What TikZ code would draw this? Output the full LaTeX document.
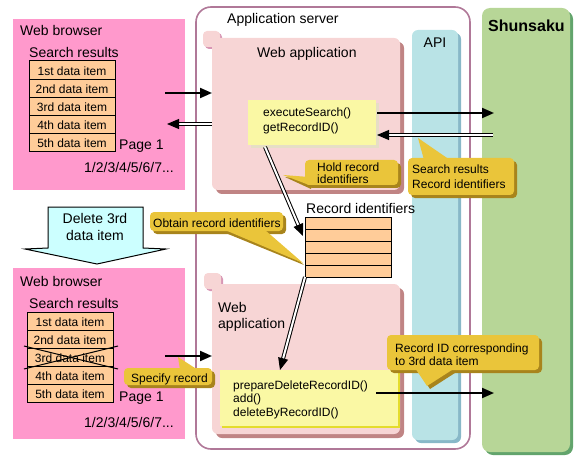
\documentclass[tikz,border=0pt]{standalone}
\usepackage{fontspec}
\setmainfont{Liberation Sans}
\usetikzlibrary{arrows.meta,shadows}
\definecolor{browserc}{HTML}{FF99CC}
\definecolor{cellc}{HTML}{FFCC99}
\definecolor{appc}{HTML}{B07898}
\definecolor{webc}{HTML}{F7D5D5}
\definecolor{websh}{HTML}{C08484}
\definecolor{tabsh}{HTML}{D896B4}
\definecolor{yelc}{HTML}{FAF8A4}
\definecolor{yelsh}{HTML}{E6DEC6}
\definecolor{yelsht}{HTML}{E4DC2C}
\definecolor{apic}{HTML}{B9E3E6}
\definecolor{apish}{HTML}{88B8C8}
\definecolor{shuc}{HTML}{B7D697}
\definecolor{shush}{HTML}{62A46C}
\definecolor{callc}{HTML}{EAC53A}
\definecolor{callsh}{HTML}{A8841C}
\definecolor{delc}{HTML}{CCFFFF}
\begin{document}
\begin{tikzpicture}[x=1pt,y=-1pt,
  lbl/.style={anchor=base west, inner sep=0pt, font=\fontsize{12}{14}\selectfont},
  big/.style={anchor=base west, inner sep=0pt, font=\fontsize{14}{16}\selectfont},
  panel/.style={anchor=north west, inner sep=0pt, outer sep=0pt},
  cell/.style={panel, draw=black, line width=1pt, fill=cellc, minimum width=86pt, minimum height=18.2pt,
    text height=10pt, text depth=0pt, font=\fontsize{12}{14}\selectfont},
  ridcell/.style={panel, draw=black, line width=1pt, fill=cellc, minimum width=86pt, minimum height=12pt},
  shad/.style={drop shadow={shadow xshift=#1, shadow yshift=-#1, opacity=1}},
  webbox/.style={panel, fill=webc, rounded corners=6pt, minimum width=188pt,
    drop shadow={shadow xshift=4pt, shadow yshift=-4pt, fill=websh, opacity=1}},
  tabbox/.style={panel, fill=webc, rounded corners=4pt, minimum width=17pt, minimum height=16pt,
    drop shadow={shadow xshift=2pt, shadow yshift=-2pt, fill=tabsh, opacity=1}},
  callout/.style={panel, fill=callc, rounded corners=4pt,
    drop shadow={shadow xshift=3pt, shadow yshift=-3pt, fill=callsh, opacity=1}},
  arr/.style={line width=2pt, -{Triangle[length=12pt,width=10pt]}},
  darr/.style={double, double distance=2pt, line width=1pt, -{Triangle[length=12pt,width=10pt]}}
]
\path[use as bounding box] (0,0) rectangle (585,462);

% ---------- Web browsers ----------
\node[panel, fill=browserc, minimum width=172pt, minimum height=171pt] (br1) at (13,19) {};
\node[big] (br1t) at (20,36) {Web browser};
\node[big] (br1s) at (29,58) {Search results};
\node[cell] (r11) at (29,61) {1st data item};
\node[cell] (r12) at (29,79.2) {2nd data item};
\node[cell] (r13) at (29,97.4) {3rd data item};
\node[cell] (r14) at (29,115.6) {4th data item};
\node[cell] (r15) at (29,133.8) {5th data item};
\node[big] (br1p) at (119,150) {Page 1};
\node[big] (br1n) at (84,173) {1/2/3/4/5/6/7...};

\node[panel, fill=browserc, minimum width=172pt, minimum height=171pt] (br2) at (13,268) {};
\node[big] (br2t) at (20,286) {Web browser};
\node[big] (br2s) at (29,308) {Search results};
\node[cell] (r21) at (27,312) {1st data item};
\node[cell] (r22) at (27,330) {2nd data item};
\node[cell] (r23) at (27,348) {3rd data item};
\node[cell] (r24) at (27,366) {4th data item};
\node[cell] (r25) at (27,384) {5th data item};
\node[big] (br2p) at (119,401) {Page 1};
\node[big] (br2n) at (84,427) {1/2/3/4/5/6/7...};
\draw[line width=1pt] (24,346) -- (118,369);
\draw[line width=1pt] (24,369) -- (118,346);

% ---------- Delete arrow ----------
\filldraw[fill=delc, draw=black, line width=1pt]
  (48,207) -- (143,207) -- (143,248) -- (166,249) -- (97,264) -- (25,249) -- (48,248) -- cycle;
\node[anchor=base, inner sep=0pt, font=\fontsize{14}{16}\selectfont] (del1) at (95,223) {Delete 3rd};
\node[anchor=base, inner sep=0pt, font=\fontsize{14}{16}\selectfont] (del2) at (95,240) {data item};

% ---------- Application server ----------
\node[panel, draw=appc, line width=1.6pt, rounded corners=15pt, minimum width=274pt, minimum height=442pt] (app) at (196,7) {};
\node[big] (appt) at (227,24) {Application server};

% API
\node[panel, fill=apic, rounded corners=6pt, minimum width=46pt, minimum height=410pt,
  drop shadow={shadow xshift=3pt, shadow yshift=-3pt, fill=apish, opacity=1}] (api) at (412,30) {};
\node[anchor=base, inner sep=0pt, font=\fontsize{14}{16}\selectfont] (apit) at (435,48) {API};

% Shunsaku
\node[panel, fill=shuc, rounded corners=8pt, minimum width=88pt, minimum height=444pt,
  drop shadow={shadow xshift=3pt, shadow yshift=-3pt, fill=shush, opacity=1}] (shu) at (482,8) {};
\node[anchor=base west, inner sep=0pt, font=\fontsize{16}{18}\selectfont\bfseries] (shut) at (488,32) {Shunsaku};

% Web application 1
\node[tabbox] (tab1) at (203,31) {};
\node[webbox, minimum height=152pt] (wa1) at (212,38) {};
\node[big] (wa1t) at (257,58) {Web application};
\node[panel, fill=yelc, minimum width=128pt, minimum height=45pt,
  drop shadow={shadow xshift=3pt, shadow yshift=-3pt, fill=yelsh, opacity=1}] (y1) at (248,100) {};
\node[lbl] (y1a) at (263,117) {executeSearch()};
\node[lbl] (y1b) at (263,132) {getRecordID()};

% Web application 2
\node[tabbox] (tab2) at (204,273) {};
\node[webbox, minimum height=150pt] (wa2) at (212,284) {};
\node[big] (wa2a) at (218,312) {Web};
\node[big] (wa2b) at (218,328) {application};
\node[panel, fill=yelc, minimum width=178pt, minimum height=56pt,
  drop shadow={shadow xshift=2pt, shadow yshift=-2pt, fill=yelsht, opacity=1}] (y2) at (220,370) {};
\node[lbl] (y2a) at (233,389) {prepareDeleteRecordID()};
\node[lbl] (y2b) at (233,402) {add()};
\node[lbl] (y2c) at (233,416) {deleteByRecordID()};

% Record identifiers table
\node[big] (ridt) at (306,213) {Record identifiers};
\node[ridcell] (rid1) at (305,217) {};
\node[ridcell] (rid2) at (305,229) {};
\node[ridcell] (rid3) at (305,241) {};
\node[ridcell] (rid4) at (305,253) {};
\node[ridcell] (rid5) at (305,265) {};

% ---------- Connectors ----------
\coordinate (b1o) at (165,93);
\coordinate (b1i) at (167,124);
\coordinate (y1o) at (377,113);
\coordinate (y1i) at (377,135);
\coordinate (shi) at (494,113);
\coordinate (sho) at (493,135);
\coordinate (y1d) at (265,147);
\coordinate (ridin) at (303,236);
\coordinate (ridout) at (305,277);
\coordinate (y2in) at (280,370);
\coordinate (b2o) at (165,356);
\coordinate (y2o) at (376,393);
\coordinate (sh2) at (494,393);

\draw[arr] (b1o) -- (b1o -| wa1.west);
\draw[darr] (b1i -| wa1.west) -- (b1i);
\draw[arr] (y1o) -- (shi);
\draw[darr] (sho) -- (y1i);
\draw[darr] (y1d) -- (ridin);
\draw[darr] (ridout) -- (y2in);
\draw[arr] (b2o) -- (b2o -| wa2.west);
\draw[arr] (y2o) -- (sh2);

% ---------- Callouts ----------
% Hold record identifiers
\fill[callsh] (285,177) -- (311,180) -- (311,189) -- cycle;
\node[callout, minimum width=93pt, minimum height=25pt] (c1) at (305,160) {};
\fill[callc] (283,175) -- (309,177) -- (309,185) -- cycle;
\node[lbl] (c1a) at (317,172) {Hold record};
\node[lbl] (c1b) at (317,183) {identifiers};

% Search results / Record identifiers
\fill[callsh] (421,141) -- (427,163) -- (453,163) -- cycle;
\node[callout, minimum width=106pt, minimum height=37pt] (c2) at (408,158) {};
\fill[callc] (418,138) -- (424,160) -- (450,160) -- cycle;
\node[lbl] (c2a) at (412,174) {Search results};
\node[lbl] (c2b) at (412,189) {Record identifiers};

% Obtain record identifiers
\fill[callsh] (228,234) -- (268,234) -- (304,265) -- cycle;
\node[callout, minimum width=133pt, minimum height=19pt] (c3) at (150,212) {};
\fill[callc] (225,230) -- (265,230) -- (303,263) -- cycle;
\node[lbl] (c3a) at (153,227) {Obtain record identifiers};

% Specify record
\fill[callsh] (181,360) -- (183,373) -- (201,373) -- cycle;
\node[callout, minimum width=88pt, minimum height=17pt] (c4) at (124,368) {};
\fill[callc] (178,357) -- (180,370) -- (198,370) -- cycle;
\node[lbl] (c4a) at (131,382) {Specify record};

% Record ID corresponding to 3rd data item
\fill[callsh] (418,371) -- (430,389) -- (458,371) -- cycle;
\node[callout, minimum width=152pt, minimum height=35pt] (c5) at (387,335) {};
\fill[callc] (415,368) -- (427,386) -- (455,368) -- cycle;
\node[lbl] (c5a) at (395,352) {Record ID corresponding};
\node[lbl] (c5b) at (395,365) {to 3rd data item};
\end{tikzpicture}
\end{document}
